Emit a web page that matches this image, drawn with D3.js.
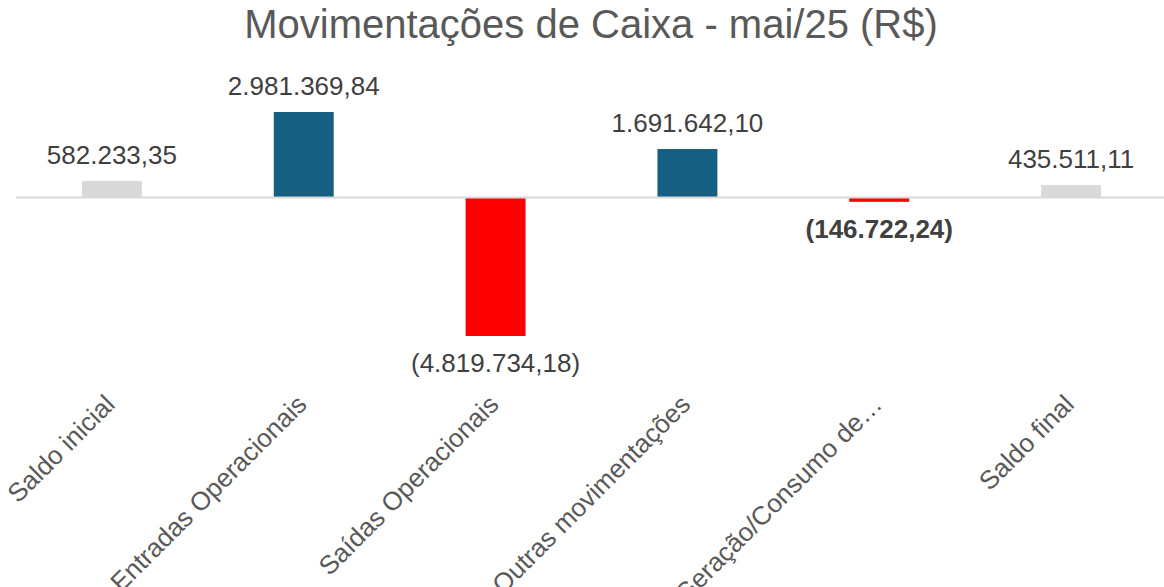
<!DOCTYPE html>
<html>
<head>
<meta charset="utf-8">
<script src="https://cdn.jsdelivr.net/npm/d3@7"></script>
<style>
  body { margin: 0; background: #fff; }
  text { font-family: "Liberation Sans", Arial, sans-serif; }
</style>
</head>
<body>
<div id="chart"></div>
<script>
var categories = ['Saldo inicial', 'Entradas Operacionais', 'Saídas Operacionais',
  'Outras movimentações', 'Geração/Consumo de…', 'Saldo final'];
var values = [582233.35, 2981369.84, -4819734.18, 1691642.10, -146722.24, 435511.11];
var valueLabels = ['582.233,35', '2.981.369,84', '(4.819.734,18)',
  '1.691.642,10', '(146.722,24)', '435.511,11'];
var barKinds = ['saldo', 'in', 'out', 'in', 'out', 'saldo'];
var boldLabels = [false, false, false, false, true, false];

var width = 1164, height = 587;
var colors = { saldo: '#d9d9d9', in: '#156082', out: '#ff0000' };

var svg = d3.select('#chart').append('svg')
  .attr('width', width)
  .attr('height', height);

var x = d3.scalePoint()
  .domain(categories)
  .range([16, 1167])
  .padding(0.5);
var barW = x.step() * 0.3125;

var y = d3.scaleLinear()
  .domain([d3.min(values), d3.max(values)])
  .range([336, 112]);

var data = categories.map(function (c, i) {
  return { cat: c, v: values[i], label: valueLabels[i], kind: barKinds[i], bold: boldLabels[i] };
});

// title
svg.append('text')
  .attr('x', 591)
  .attr('y', 38)
  .attr('text-anchor', 'middle')
  .attr('fill', '#595959')
  .style('font-size', '40px')
  .text('Movimentações de Caixa - mai/25 (R$)');

// bars
svg.selectAll('rect.bar').data(data)
  .enter().append('rect')
  .attr('class', 'bar')
  .attr('x', function (d) { return x(d.cat) - barW / 2; })
  .attr('y', function (d) { return Math.min(y(d.v), y(0)); })
  .attr('width', barW)
  .attr('height', function (d) { return Math.abs(y(d.v) - y(0)); })
  .attr('fill', function (d) { return colors[d.kind]; });

// zero line
svg.append('line')
  .attr('x1', 16).attr('x2', width)
  .attr('y1', y(0)).attr('y2', y(0))
  .attr('stroke', '#d9d9d9')
  .attr('stroke-width', 2);

// value labels
svg.selectAll('text.val').data(data)
  .enter().append('text')
  .attr('class', 'val')
  .attr('x', function (d) { return x(d.cat); })
  .attr('y', function (d) { return d.v >= 0 ? y(d.v) - 17 : y(d.v) + 36; })
  .attr('text-anchor', 'middle')
  .attr('fill', '#404040')
  .style('font-size', '26px')
  .style('font-weight', function (d) { return d.bold ? 'bold' : 'normal'; })
  .text(function (d) { return d.label; });

// category axis
var axis = svg.append('g')
  .attr('transform', 'translate(0,406)')
  .call(d3.axisBottom(x).tickSize(0));
axis.select('.domain').remove();
axis.selectAll('text')
  .attr('x', 0).attr('y', 0).attr('dy', 0)
  .attr('transform', 'translate(4,0) rotate(-45)')
  .attr('text-anchor', 'end')
  .attr('fill', '#595959')
  .style('font-size', '26px')
  .style('font-family', '"Liberation Sans", Arial, sans-serif');
</script>
</body>
</html>
